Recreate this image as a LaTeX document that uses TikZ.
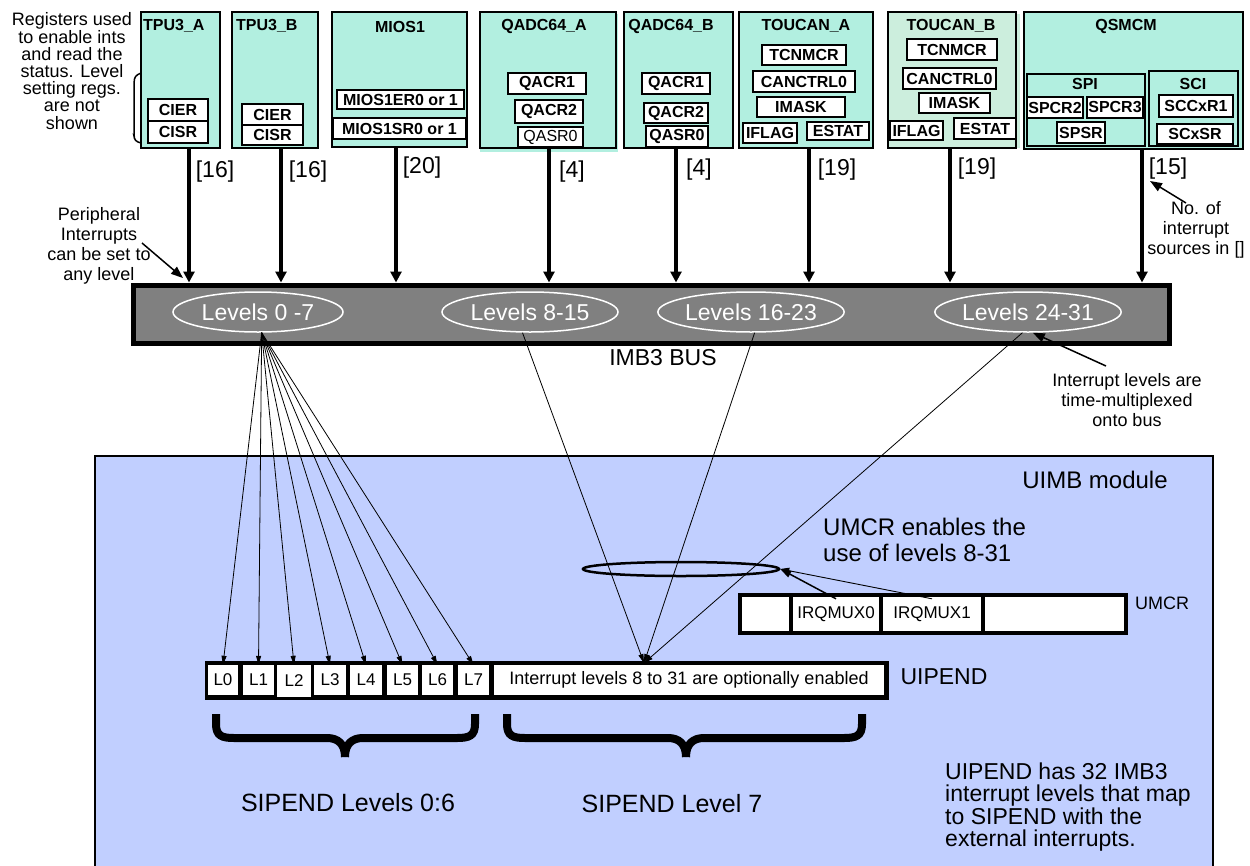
\documentclass[tikz,border=0pt]{standalone}
\usepackage{fontspec}
\setmainfont{Liberation Sans}
\usetikzlibrary{arrows.meta,shapes.geometric}
\definecolor{modfill}{RGB}{178,239,224}
\definecolor{tcbfill}{RGB}{204,238,221}
\definecolor{uimbfill}{RGB}{193,207,255}
\definecolor{busgray}{RGB}{128,128,128}
\newcommand\myfs[2]{\fontsize{#1}{#2}\selectfont}
\newcommand\rbox[7][reg]{\node[#1, minimum width={(#5-#3)*1pt}, minimum height={(#6-#4)*1pt}] (#2) at ({(#3+#5)/2},{(#4+#6)/2}) {#7};}
\tikzset{
  mod/.style={draw, line width=2.5pt, fill=modfill, inner sep=0pt},
  modb/.style={mod, fill=tcbfill},
  reg/.style={draw, line width=2pt, fill=white, inner sep=0pt, font=\bfseries\myfs{16}{18}},
  regn/.style={reg, font=\myfs{16}{18}},
  ttl/.style={font=\bfseries\myfs{16}{18}, inner sep=0pt},
  busst/.style={draw, line width=5pt, fill=busgray, inner sep=0pt},
  stem/.style={line width=4pt, -{Triangle[length=11pt,width=11pt]}},
  cnt/.style={font=\myfs{23}{25}, inner sep=0pt},
  big/.style={font=\myfs{24}{26}, inner sep=0pt},
  lvl/.style={ellipse, draw=white, line width=1.5pt, text=white, font=\myfs{23}{25}, inner sep=0pt, minimum height=40pt},
  note/.style={font=\myfs{18}{20}, align=center, inner sep=0pt},
  thinarr/.style={line width=0.8pt, -{Triangle[length=9pt,width=5pt]}},
  annarr/.style={line width=1.5pt, -{Triangle[length=12pt,width=9pt]}},
  cell/.style={fill=white, inner sep=0pt, font=\myfs{17}{19}},
  bracefig/.style={line width=8pt, line cap=butt}
}
\begin{document}
\begin{tikzpicture}[x=1pt,y=-1pt]
\useasboundingbox (0,0) rectangle (1250,865);
% ---------- UIMB module background ----------
\draw[line width=1.5pt, fill=uimbfill] (95,456) rectangle (1213,885);
% ---------- left note ----------
\node[font=\myfs{18}{17.2}, align=center, inner sep=0pt] (regnote) at (72,71) {Registers used\\to enable ints\\and read the\\status. Level\\setting regs.\\are not\\shown};
\draw[line width=1.5pt, rounded corners=3pt] (141,73) -- (135,76) -- (134,82) -- (134,136) -- (135,141) -- (141,143);
% ---------- modules ----------
\rbox[mod]{tpuA}{141}{12}{220}{148}{}
\rbox[mod]{tpuB}{232}{12}{318}{148}{}
\rbox[mod]{mios}{332}{12}{467}{147}{}
\fill[modfill] (480,14) rectangle (618,152);
\rbox[mod]{qadcA}{480}{12}{616}{148}{}
\rbox[mod]{qadcB}{624}{12}{733}{148}{}
\rbox[mod]{tcA}{739}{12}{873}{148}{}
\fill[tcbfill] (887,14) rectangle (1020,148);
\rbox[modb]{tcB}{888}{12}{1016}{148}{}
\rbox[mod]{qsm}{1024}{12}{1243}{149}{}
\rbox[mod]{spi}{1027}{74}{1145}{146}{}
\rbox[mod]{sci}{1149}{71}{1238}{146}{}
% titles
\node[ttl, anchor=west] (tA) at (143,26) {TPU3\_A};
\node[ttl, anchor=west] (tB) at (236,26) {TPU3\_B};
\node[ttl] (tM) at (400,27) {MIOS1};
\node[ttl] (tQA) at (544,26) {QADC64\_A};
\node[ttl] (tQB) at (671,26) {QADC64\_B};
\node[ttl] (tTA) at (806,26) {TOUCAN\_A};
\node[ttl] (tTB) at (951,26) {TOUCAN\_B};
\node[ttl] (tQS) at (1126,26) {QSMCM};
\node[ttl] (tSPI) at (1085,84) {SPI};
\node[ttl] (tSCI) at (1193,84) {SCI};
% registers
\rbox{cierA}{148}{99}{208}{121}{CIER}
\rbox{cisrA}{148}{121}{208}{143}{CISR}
\rbox{cierB}{242}{104}{303}{125}{CIER}
\rbox{cisrB}{242}{125}{303}{145}{CISR}
\rbox{mer}{337}{90}{464}{109}{MIOS1ER0 or 1}
\rbox{msr}{333}{118}{466}{139}{MIOS1SR0 or 1}
\rbox{qa1}{508}{73}{586}{94}{QACR1}
\rbox{qa2}{515}{100}{583}{123}{QACR2}
\rbox[regn]{qa3}{518}{127}{583}{147}{QASR0}
\rbox{qb1}{642}{73}{710}{94}{QACR1}
\rbox{qb2}{644}{103}{708}{123}{QACR2}
\rbox{qb3}{646}{126}{708}{147}{QASR0}
\rbox{ta1}{762}{45}{846}{65}{TCNMCR}
\rbox{ta2}{753}{71}{855}{92}{CANCTRL0}
\rbox{ta3}{757}{97}{845}{117}{IMASK}
\rbox{ta4}{743}{123}{797}{143}{IFLAG}
\rbox{ta5}{807}{122}{869}{140}{ESTAT}
\rbox{tb1}{907}{39}{997}{60}{TCNMCR}
\rbox{tb2}{903}{68}{996}{89}{CANCTRL0}
\rbox{tb3}{919}{93}{990}{113}{IMASK}
\rbox{tb4}{890}{121}{943}{140}{IFLAG}
\rbox{tb5}{954}{118}{1016}{139}{ESTAT}
\rbox{sp2}{1027}{97}{1083}{118}{SPCR2}
\rbox{sp3}{1087}{97}{1143}{118}{SPCR3}
\rbox{sps}{1057}{122}{1105}{143}{SPSR}
\rbox{sc1}{1159}{95}{1233}{117}{SCCxR1}
\rbox{sc2}{1157}{124}{1233}{144}{SCxSR}
% ---------- bus ----------
\rbox[busst]{bus}{133}{285}{1169}{343}{}
\node[lvl, minimum width=170pt] (lv07) at (258,312) {Levels 0 -7};
\node[lvl, minimum width=176pt] (lv815) at (530,312) {Levels 8-15};
\node[lvl, minimum width=162pt] (lv1623) at (751,312) {Levels 16-23};
\node[lvl, minimum width=180pt] (lv2431) at (1028,312) {Levels 24-31};
\node[cnt] (busname) at (663,358) {IMB3 BUS};
% stems
\coordinate (s1) at (189,0);
\coordinate (s2) at (281,0);
\coordinate (s3) at (396,0);
\coordinate (s4) at (549,0);
\coordinate (s5) at (676,0);
\coordinate (s6) at (809,0);
\coordinate (s7) at (950,0);
\coordinate (s8) at (1142,0);
\draw[stem] (tpuA.south -| s1) -- (bus.north -| s1);
\draw[stem] (tpuB.south -| s2) -- (bus.north -| s2);
\draw[stem] (mios.south -| s3) -- (bus.north -| s3);
\draw[stem] (qadcA.south -| s4) -- (bus.north -| s4);
\draw[stem] (qadcB.south -| s5) -- (bus.north -| s5);
\draw[stem] (tcA.south -| s6) -- (bus.north -| s6);
\draw[stem] (tcB.south -| s7) -- (bus.north -| s7);
\draw[stem] (qsm.south -| s8) -- (bus.north -| s8);
% counts
\node[cnt] (c1) at (215,172) {[16]};
\node[cnt] (c2) at (308,172) {[16]};
\node[cnt] (c3) at (422,168) {[20]};
\node[cnt] (c4) at (572,172) {[4]};
\node[cnt] (c5) at (699,170) {[4]};
\node[cnt] (c6) at (837,170) {[19]};
\node[cnt] (c7) at (977,169) {[19]};
\node[cnt] (c8) at (1168,169) {[15]};
% annotations near the bus
\node[note] (peri) at (99,246) {Peripheral\\Interrupts\\can be set to\\any level};
\coordinate (periA) at (142,243);
\coordinate (periB) at (183,278);
\draw[annarr] (periA) -- (periB);
\node[note] (nosrc) at (1196,230) {No. of\\interrupt\\sources in []};
\coordinate (nosA) at (1186,203);
\coordinate (nosB) at (1150,181);
\draw[annarr] (nosA) -- (nosB);
\node[note] (tmux) at (1127,400) {Interrupt levels are\\time-multiplexed\\onto bus};
\coordinate (tmA) at (1106,366);
\draw[annarr] (tmA) -- (lv2431.283);
% ---------- UIMB contents ----------
\node[big] (uimb) at (1095,480) {UIMB module};
\node[big, anchor=west, align=left] (umtxt) at (823,540) {UMCR enables the\\use of levels 8-31};
\node[ellipse, draw, line width=2.5pt, minimum width=196pt, minimum height=14pt, inner sep=0pt] (uell) at (681,569) {};
% UMCR register
\rbox[draw, line width=4pt, fill=white, inner sep=0pt]{umcr}{740}{595}{1126}{633}{}
\draw[line width=4pt] (791,595) -- (791,633);
\draw[line width=4pt] (881,595) -- (881,633);
\draw[line width=4pt] (983,595) -- (983,633);
\rbox[cell]{irq0}{793}{599}{879}{629}{IRQMUX0}
\rbox[cell]{irq1}{883}{599}{981}{629}{IRQMUX1}
\node[font=\myfs{18}{20}, inner sep=0pt] (umcrlbl) at (1162,603) {UMCR};
\draw[line width=1.5pt, -{Triangle[length=11pt,width=7pt]}] (irq0.north) -- (uell.east);
\draw[line width=0.9pt, -{Triangle[length=9pt,width=6pt]}] (irq1.north) -- (uell.east);
% UIPEND register
\fill[black] (205,661) rectangle (889,700);
\rbox[cell]{L0}{208}{665}{238}{695}{L0}
\rbox[cell]{L1}{243}{665}{274}{695}{L1}
\rbox[cell]{L2}{277}{665}{311}{697}{L2}
\rbox[cell]{L3}{314}{665}{346}{695}{L3}
\rbox[cell]{L4}{350}{665}{382}{695}{L4}
\rbox[cell]{L5}{387}{665}{418}{695}{L5}
\rbox[cell]{L6}{422}{665}{453}{695}{L6}
\rbox[cell]{L7}{458}{665}{489}{695}{L7}
\rbox[cell, font=\myfs{18}{20}]{Lhi}{494}{665}{884}{695}{Interrupt levels 8 to 31 are optionally enabled}
\node[cnt] (uipend) at (944,677) {UIPEND};
% fan from levels 0-7
\coordinate (fan) at (lv07.280);
\foreach \c in {L0,L1,L2,L3,L4,L5,L6,L7} {
  \draw[thinarr] (fan) -- (\c.north);
}
% levels 8-31 converging
\coordinate (conv) at (644,663);
\draw[thinarr] (lv815.250) -- (conv);
\draw[thinarr] (lv1623.280) -- (conv);
\draw[thinarr] (lv2431.255) -- (conv);
% braces
\draw[bracefig] (216,714) -- (216,724) .. controls (216,736) and (222,738) .. (234,738) -- (327,738) .. controls (338,738) and (345,744) .. (345,757);
\draw[bracefig] (475,714) -- (475,724) .. controls (475,736) and (469,738) .. (457,738) -- (363,738) .. controls (352,738) and (345,744) .. (345,757);
\draw[bracefig] (507,714) -- (507,724) .. controls (507,736) and (513,738) .. (525,738) -- (668,738) .. controls (679,738) and (686,744) .. (686,757);
\draw[bracefig] (862,714) -- (862,724) .. controls (862,736) and (856,738) .. (844,738) -- (704,738) .. controls (693,738) and (686,744) .. (686,757);
\node[font=\myfs{25}{27}, inner sep=0pt] (sip06) at (348,803) {SIPEND Levels 0:6};
\node[font=\myfs{25}{27}, inner sep=0pt] (sip7) at (672,804) {SIPEND Level 7};
\node[font=\myfs{23}{22.4}, align=left, anchor=west, inner sep=0pt] (uipnote) at (945,807) {UIPEND has 32 IMB3\\interrupt levels that map\\to SIPEND with the\\external interrupts.};
\end{tikzpicture}
\end{document}
